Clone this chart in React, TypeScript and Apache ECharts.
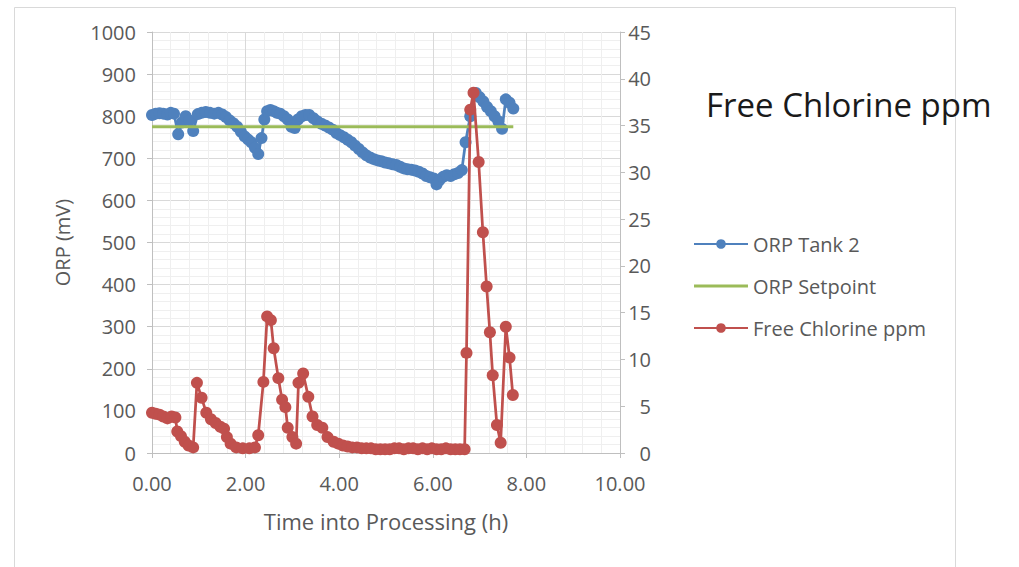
import React, { useEffect, useRef } from "react";
import * as echarts from "echarts";

// ORP Tank 2 (left axis, mV)
const orpTimes = [
  0.0, 0.08, 0.16, 0.24, 0.33, 0.4, 0.47, 0.56, 0.64, 0.72, 0.8, 0.88, 0.98, 1.06, 1.15, 1.24, 1.33, 1.42, 1.5,
  1.58, 1.66, 1.74, 1.82, 1.9, 1.98, 2.05, 2.12, 2.2, 2.27, 2.34, 2.4, 2.46, 2.53, 2.6, 2.67, 2.74, 2.82, 2.9, 2.98,
  3.05, 3.12, 3.2, 3.28, 3.36, 3.45, 3.53, 3.62, 3.7, 3.78, 3.86, 3.94, 4.02, 4.1, 4.18, 4.26, 4.34, 4.42, 4.5, 4.58,
  4.66, 4.74, 4.82, 4.9, 4.98, 5.06, 5.14, 5.22, 5.3, 5.38, 5.46, 5.54, 5.62, 5.7, 5.78, 5.86, 5.94, 6.02, 6.08, 6.14,
  6.22, 6.3, 6.38, 6.46, 6.54, 6.62, 6.7, 6.8, 6.92, 7.0, 7.08, 7.16, 7.24, 7.32, 7.4, 7.48, 7.56, 7.64, 7.72,
];
const orpValues = [
  803, 806, 807, 806, 804, 808, 806, 757, 785, 800, 790, 765, 805, 808, 810, 808, 806, 808, 804,
  798, 790, 783, 775, 763, 752, 745, 738, 725, 710, 748, 792, 812, 815, 812, 808, 806, 800, 792, 775,
  772, 792, 800, 803, 803, 795, 788, 782, 778, 773, 768, 760, 755, 750, 744, 738, 730, 722, 714, 707,
  702, 698, 695, 693, 690, 688, 686, 684, 680, 676, 674, 673, 671, 668, 664, 658, 655, 652, 638, 648,
  656, 660, 658, 662, 665, 672, 738, 800, 855, 845, 835, 822, 812, 800, 788, 770, 840, 832, 818,
];

// ORP Setpoint (left axis, mV)
const setpointTimes = [0.0, 7.72];
const setpointValues = [775, 775];

// Free Chlorine ppm (right axis)
const chlorineTimes = [
  0.0, 0.08, 0.16, 0.24, 0.33, 0.42, 0.5, 0.54, 0.62, 0.7, 0.78, 0.88, 0.96, 1.06, 1.16, 1.26, 1.36, 1.46, 1.54,
  1.6, 1.68, 1.8, 1.94, 2.08, 2.2, 2.27, 2.38, 2.46, 2.54, 2.6, 2.7, 2.78, 2.85, 2.9, 3.0, 3.08, 3.13, 3.23, 3.34,
  3.43, 3.53, 3.64, 3.75, 3.88, 3.98, 4.08, 4.18, 4.28, 4.38, 4.48, 4.58, 4.68, 4.78, 4.88, 4.98, 5.08, 5.18, 5.28,
  5.38, 5.48, 5.58, 5.68, 5.78, 5.88, 5.98, 6.08, 6.18, 6.28, 6.38, 6.48, 6.58, 6.68, 6.72, 6.8, 6.87, 6.98, 7.07,
  7.15, 7.22, 7.28, 7.37, 7.45, 7.56, 7.64, 7.71,
];
const chlorineValues = [
  4.3, 4.2, 4.1, 3.9, 3.7, 3.9, 3.8, 2.3, 1.8, 1.2, 0.8, 0.6, 7.5, 5.9, 4.3, 3.6, 3.2, 2.8, 2.6,
  1.7, 1.0, 0.6, 0.5, 0.5, 0.6, 1.9, 7.6, 14.6, 14.2, 11.2, 8.0, 5.7, 4.9, 2.7, 1.7, 1.0, 7.5, 8.5, 6.0,
  3.9, 3.0, 2.7, 1.7, 1.2, 1.0, 0.8, 0.7, 0.6, 0.6, 0.5, 0.5, 0.5, 0.4, 0.4, 0.4, 0.4, 0.5, 0.5,
  0.4, 0.5, 0.5, 0.4, 0.5, 0.4, 0.5, 0.4, 0.4, 0.5, 0.4, 0.4, 0.4, 0.4, 10.7, 36.7, 38.5, 31.1, 23.6,
  17.8, 12.9, 8.3, 3.0, 1.1, 13.5, 10.2, 6.2,
];

const seriesNames = ["ORP Tank 2", "ORP Setpoint", "Free Chlorine ppm"];
const chartTitle = "Free Chlorine ppm";
const xAxisTitle = "Time into Processing (h)";
const leftAxisTitle = "ORP (mV)";

const zip = (ts: number[], vs: number[]) => {
  const n = Math.min(ts.length, vs.length);
  const out: number[][] = [];
  for (let i = 0; i < n; i++) out.push([ts[i], vs[i]]);
  return out;
};

const FONT = "'Open Sans', sans-serif";
const GREY = "#595959";

export default function App() {
  const ref = useRef<HTMLDivElement>(null);
  useEffect(() => {
    if (!ref.current) return;
    const chart = echarts.init(ref.current, null, { renderer: "svg" });
    chart.setOption({
      animation: false,
      backgroundColor: "#ffffff",
      textStyle: { fontFamily: FONT },
      title: {
        text: chartTitle,
        left: 701,
        top: 83,
        textStyle: { fontFamily: FONT, fontSize: 33, fontWeight: "normal", color: "#1a1a1a" },
      },
      graphic: [
        {
          type: "rect",
          shape: { x: 14.5, y: 7.5, width: 941, height: 580 },
          style: { fill: "none", stroke: "#d9d9d9", lineWidth: 1 },
          silent: true,
          z: -1,
        },
      ],
      legend: {
        orient: "vertical",
        left: 688,
        top: 229,
        itemWidth: 54,
        itemHeight: 12,
        itemGap: 22,
        data: [
          { name: seriesNames[0] },
          {
            name: seriesNames[1],
            icon: "path://M0,0h0.01v0.01h-0.01z M0,4.5h54v3h-54z M0,12h0.01v0.01h-0.01z",
            itemStyle: { color: "#9bbb59" },
          },
          { name: seriesNames[2] },
        ],
        textStyle: { fontFamily: FONT, fontSize: 20, color: GREY },
      },
      grid: { left: 152, right: 399, top: 32, bottom: 114, containLabel: false },
      xAxis: {
        type: "value",
        min: 0,
        max: 10,
        interval: 2,
        name: xAxisTitle,
        nameLocation: "middle",
        nameGap: 57,
        nameTextStyle: { fontFamily: FONT, fontSize: 22, color: GREY },
        axisLine: { show: true, lineStyle: { color: "#bfbfbf", width: 1 } },
        axisTick: { show: true, length: 5, lineStyle: { color: "#bfbfbf" } },
        axisLabel: {
          color: GREY,
          fontSize: 20,
          fontFamily: FONT,
          margin: 20,
          formatter: (v: number) => v.toFixed(2),
        },
        splitLine: { show: true, lineStyle: { color: "#d9d9d9", width: 1 } },
        minorTick: { show: false, splitNumber: 5 },
        minorSplitLine: { show: true, lineStyle: { color: "#efefef", width: 1 } },
      },
      yAxis: [
        {
          type: "value",
          position: "left",
          min: 0,
          max: 1000,
          interval: 100,
          name: leftAxisTitle,
          nameLocation: "middle",
          nameGap: 80,
          nameTextStyle: { fontFamily: FONT, fontSize: 20, color: GREY },
          axisLine: { show: true, lineStyle: { color: "#bfbfbf", width: 1 } },
          axisTick: { show: true, length: 5, lineStyle: { color: "#bfbfbf" } },
          axisLabel: {
            color: GREY,
            fontSize: 20,
            fontFamily: FONT,
            margin: 16,
            formatter: (v: number) => String(v),
          },
          splitLine: { show: true, lineStyle: { color: "#d9d9d9", width: 1 } },
          minorTick: { show: false, splitNumber: 5 },
          minorSplitLine: { show: true, lineStyle: { color: "#efefef", width: 1 } },
        },
        {
          type: "value",
          position: "right",
          min: 0,
          max: 45,
          interval: 5,
          axisLine: { show: true, lineStyle: { color: "#bfbfbf", width: 1 } },
          axisTick: { show: true, length: 5, lineStyle: { color: "#bfbfbf" } },
          axisLabel: {
            color: GREY,
            fontSize: 20,
            fontFamily: FONT,
            margin: 31,
            align: "right",
            formatter: (v: number) => String(v),
          },
          splitLine: { show: false },
        },
      ],
      series: [
        {
          name: seriesNames[0],
          type: "line",
          yAxisIndex: 0,
          data: zip(orpTimes, orpValues),
          symbol: "circle",
          symbolSize: 12,
          itemStyle: { color: "#4f81bd" },
          lineStyle: { color: "#4f81bd", width: 2.75 },
          z: 2,
        },
        {
          name: seriesNames[1],
          type: "line",
          yAxisIndex: 0,
          data: zip(setpointTimes, setpointValues),
          symbol: "none",
          itemStyle: { color: "#9bbb59" },
          lineStyle: { color: "#9bbb59", width: 3 },
          z: 3,
        },
        {
          name: seriesNames[2],
          type: "line",
          yAxisIndex: 1,
          data: zip(chlorineTimes, chlorineValues),
          symbol: "circle",
          symbolSize: 12,
          itemStyle: { color: "#c0504d" },
          lineStyle: { color: "#c0504d", width: 2.75 },
          z: 4,
        },
      ],
    });
    return () => chart.dispose();
  }, []);
  return (
    <div
      ref={ref}
      style={{ position: "absolute", left: 0, top: 0, width: 1019, height: 567, background: "#fff" }}
    />
  );
}
